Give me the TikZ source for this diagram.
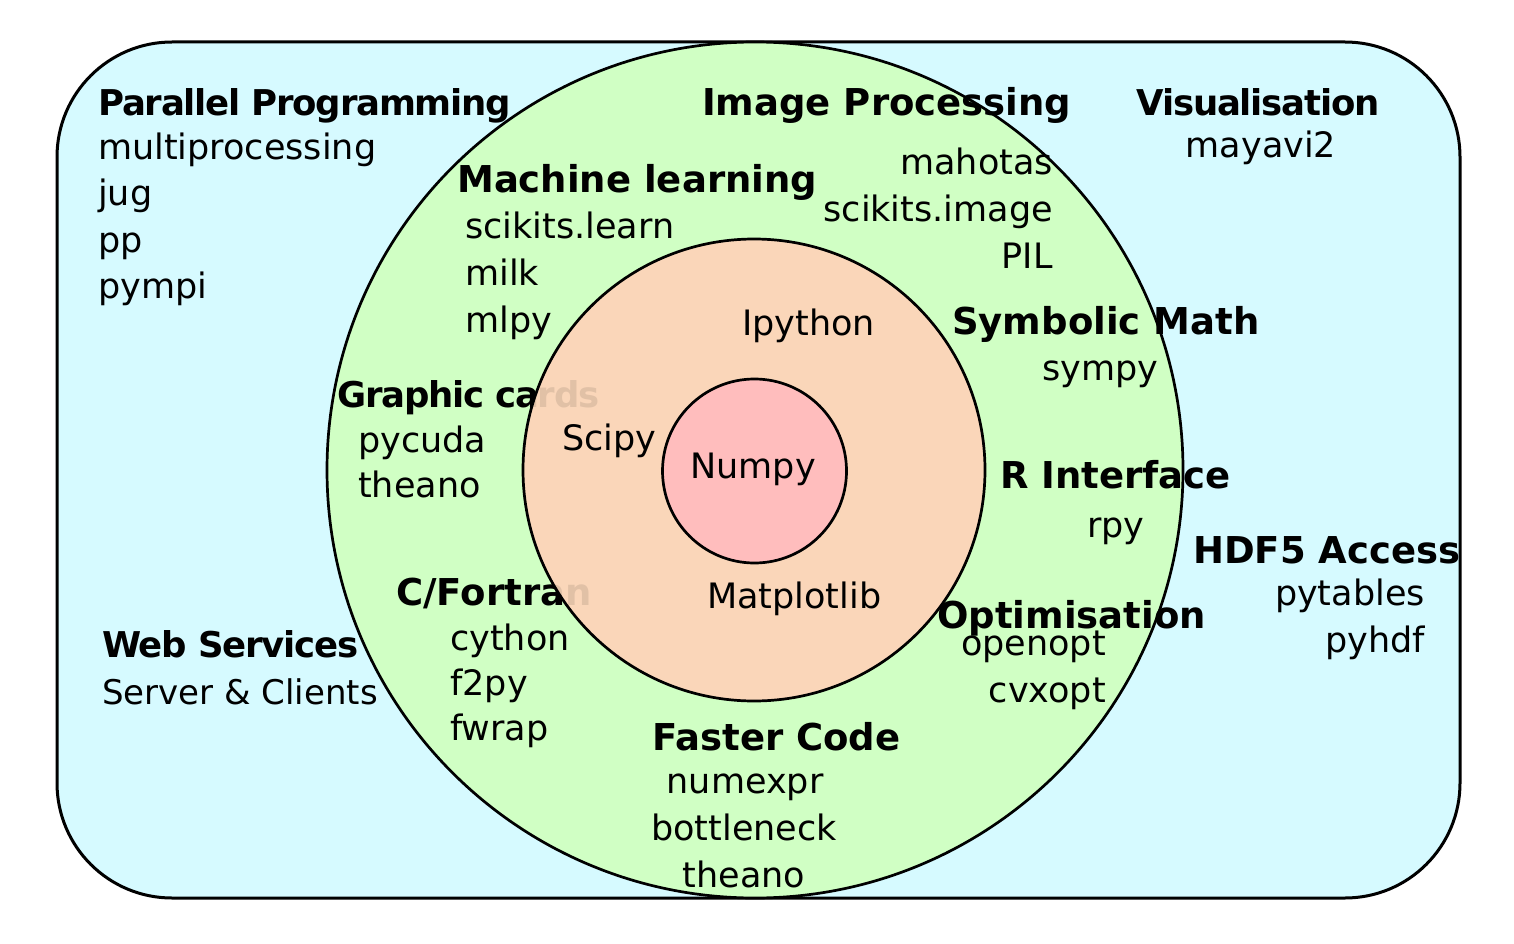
\documentclass[tikz,border=0pt]{standalone}
\usepackage{fontspec}
\setmainfont{DejaVu Sans}
\definecolor{bluebg}{RGB}{214,250,255}
\definecolor{greenbg}{RGB}{208,255,196}
\definecolor{orangebg}{RGB}{250,214,185}
\definecolor{redbg}{RGB}{255,189,189}
\begin{document}
\begin{tikzpicture}[x=1pt,y=-1pt,
  head/.style={inner sep=0pt,font=\fontsize{35.5}{42}\selectfont\bfseries\addfontfeature{LetterSpace=-3.5}},
  headwide/.style={inner sep=0pt,font=\fontsize{37}{44}\selectfont\bfseries},
  item/.style={inner sep=0pt,font=\fontsize{35}{42}\selectfont},
  itemnarrow/.style={inner sep=0pt,font=\fontsize{34}{42}\selectfont},
  ring/.style={line width=2.7pt}]
\useasboundingbox (0,0) rectangle (1514,944);
% outer box
\draw[line width=3pt,fill=bluebg,rounded corners=115pt] (57,42) rectangle (1460,898);
% ring fills
\fill[greenbg] (755,470) circle[radius=428];
\fill[orangebg] (754,470) circle[radius=231];
% outer labels
\node[head,anchor=base west] (hpp) at (98,116) {Parallel Programming};
\node[item,anchor=base west] (i1) at (98,160) {multiprocessing};
\node[item,anchor=base west] (i2) at (98,205) {jug};
\node[item,anchor=base west] (i3) at (98,252) {pp};
\node[item,anchor=base west] (i4) at (98,298) {pympi};
\node[headwide,anchor=base west] (hml) at (457,193) {Machine learning};
\node[item,anchor=base west] (i5) at (465,238) {scikits.learn};
\node[item,anchor=base west] (i6) at (465,285) {milk};
\node[item,anchor=base west] (i7) at (465,332) {mlpy};
\node[headwide,anchor=base west] (hip) at (702,116) {Image Processing};
\node[item,anchor=base east] (i8) at (1053,175) {mahotas};
\node[item,anchor=base east] (i9) at (1053,222) {scikits.image};
\node[item,anchor=base east] (i10) at (1053,268) {PIL};
\node[head,anchor=base] (hvis) at (1258,116) {Visualisation};
\node[item,anchor=base] (i11) at (1261,158) {mayavi2};
\node[headwide,anchor=base west] (hsm) at (952,334) {Symbolic Math};
\node[item,anchor=base west] (i12) at (1042,380) {sympy};
\node[head,anchor=base west] (hgc) at (337,407) {Graphic cards};
\node[item,anchor=base west] (i13) at (358,452) {pycuda};
\node[item,anchor=base west] (i14) at (358,497) {theano};
\node[headwide,anchor=base west] (hri) at (1000,488) {R Interface};
\node[item,anchor=base west] (i15) at (1087,537) {rpy};
\node[headwide,anchor=base west] (hhdf) at (1193,563) {HDF5 Access};
\node[item,anchor=base east] (i16) at (1425,605) {pytables};
\node[item,anchor=base east] (i17) at (1425,652) {pyhdf};
\node[headwide,anchor=base west] (hcf) at (396,605) {C/Fortran};
\node[item,anchor=base west] (i18) at (450,650) {cython};
\node[item,anchor=base west] (i19) at (450,695) {f2py};
\node[item,anchor=base west] (i20) at (450,740) {fwrap};
\node[headwide,anchor=base west] (hopt) at (937,628) {Optimisation};
\node[item,anchor=base east] (i21) at (1106,655) {openopt};
\node[item,anchor=base east] (i22) at (1106,702) {cvxopt};
\node[head,anchor=base west] (hws) at (102,657) {Web Services};
\node[itemnarrow,anchor=base west] (i23) at (102,704) {Server \& Clients};
\node[headwide,anchor=base west] (hfc) at (652,750) {Faster Code};
\node[item,anchor=base] (i24) at (745,793) {numexpr};
\node[item,anchor=base] (i25) at (744,840) {bottleneck};
\node[item,anchor=base] (i26) at (744,887) {theano};
% orange veil over the labels that run into the inner ring
\fill[orangebg,fill opacity=0.9] (754,470) circle[radius=231];
% outlines
\draw[ring] (755,470) circle[radius=428];
\draw[ring] (754,470) circle[radius=231];
\draw[ring,fill=redbg] (754.5,471) circle[radius=92];
% inner labels
\node[item,anchor=base west] (ipy) at (742,335) {Ipython};
\node[item,anchor=base west] (sci) at (562,450) {Scipy};
\node[item,anchor=base] (num) at (753,478) {Numpy};
\node[item,anchor=base west] (mpl) at (707,608) {Matplotlib};
\end{tikzpicture}
\end{document}
